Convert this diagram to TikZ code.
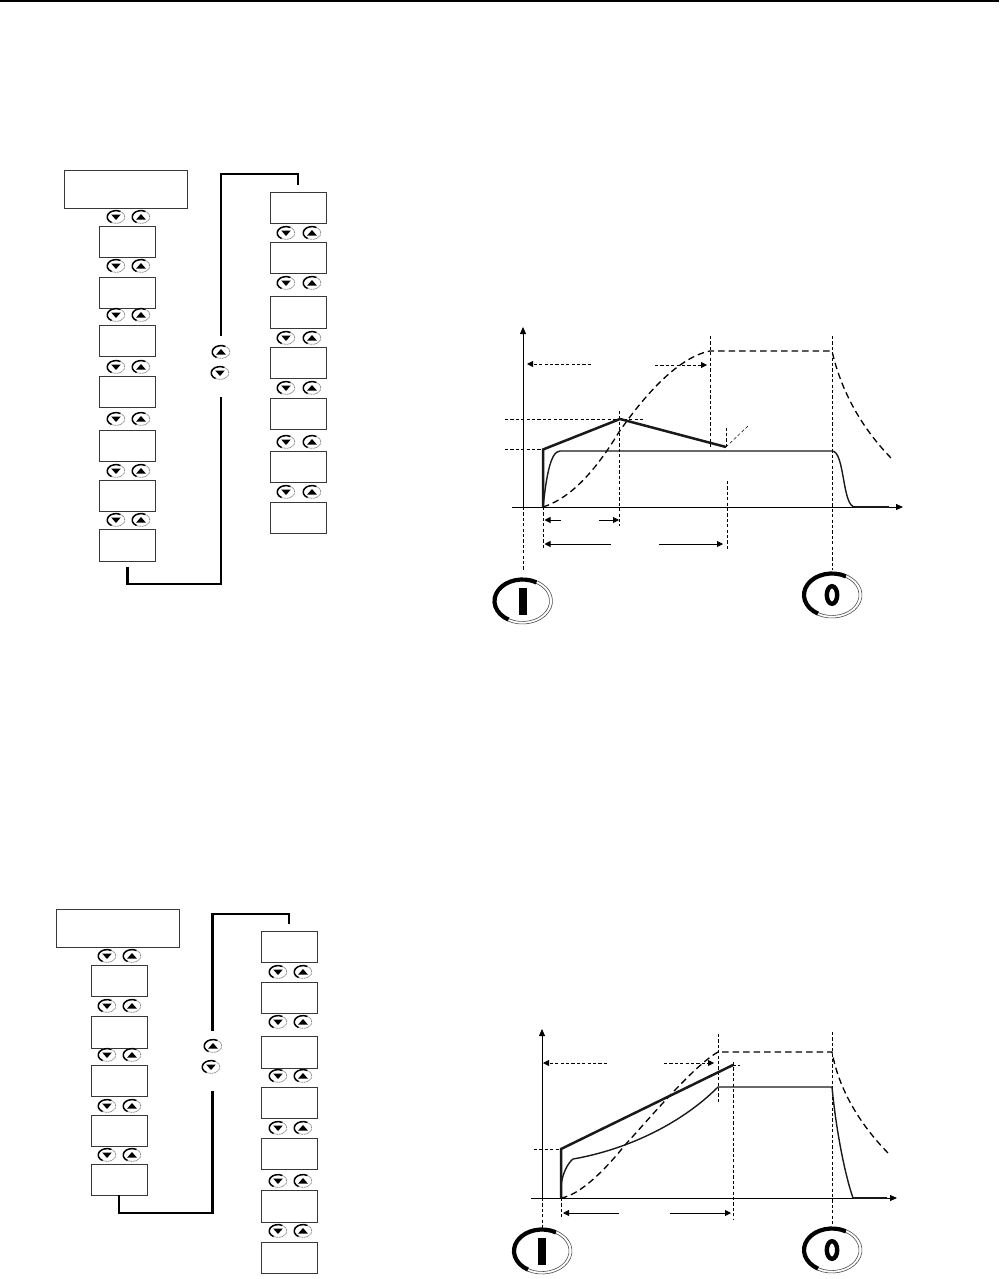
\documentclass[tikz,border=0pt]{standalone}
\usetikzlibrary{arrows.meta,calc}
\tikzset{
  x=1pt,y=-1pt,
  panel/.style={draw=black!78,line width=1pt,fill=white,inner sep=0pt,outer sep=0pt,minimum width=56pt},
  bigpanel/.style={panel,minimum width=123pt},
  link/.style={line width=2.4pt,black,line cap=butt,line join=miter},
  axis/.style={line width=.8pt,black,-{Triangle[length=7pt,width=6pt]}},
  guide/.style={line width=.8pt,black,dash pattern=on 3.2pt off 2.2pt},
  guidearrow/.style={guide,-{Triangle[length=6pt,width=6pt]}},
  span/.style={line width=.9pt,black,-{Triangle[length=6pt,width=6pt]}},
  load/.style={line width=2.5pt,black!90,line join=miter},
  current/.style={line width=1.4pt,black!90},
  speed/.style={line width=1.3pt,black,dash pattern=on 6.5pt off 4pt},
  pics/btnring/.style={code={
    \begin{scope}[y=1pt]
      \fill[white] (0,0) ellipse [x radius=9.5pt,y radius=7pt];
      \draw[black!45,line width=.8pt,dash pattern=on 1pt off .6pt] (60:8.8pt and 6.4pt) arc[start angle=60,end angle=-120,x radius=8.8pt,y radius=6.4pt];
      \draw[black,line width=1.5pt] (60:8.8pt and 6.4pt) arc[start angle=60,end angle=240,x radius=8.8pt,y radius=6.4pt];
    \end{scope}
  }},
  pics/btnup/.style={code={
    \pic {btnring};
    \begin{scope}[y=1pt]\fill[black] (-4.8pt,-2.5pt) -- (4.8pt,-2.5pt) -- (0pt,3pt) -- cycle;\end{scope}
  }},
  pics/btndown/.style={code={
    \pic {btnring};
    \begin{scope}[y=1pt]\fill[black] (-4.8pt,2.5pt) -- (4.8pt,2.5pt) -- (0pt,-3pt) -- cycle;\end{scope}
  }},
  pics/powerring/.style={code={
    \begin{scope}[y=1pt]
      \draw[black!70,line width=.6pt] (60:30pt and 23pt) arc[start angle=60,end angle=-120,x radius=30pt,y radius=23pt];
      \draw[black!70,line width=.6pt] (60:27pt and 20.5pt) arc[start angle=60,end angle=-120,x radius=27pt,y radius=20.5pt];
      \draw[black,line width=4.2pt] (60:28pt and 21.5pt) arc[start angle=60,end angle=240,x radius=28pt,y radius=21.5pt];
    \end{scope}
  }},
  pics/poweron/.style={code={
    \pic {powerring};
    \fill[black] (-4pt,-14pt) rectangle (4pt,13pt);
  }},
  pics/poweroff/.style={code={
    \pic {powerring};
    \begin{scope}[y=1pt]\draw[black,line width=4.4pt] (0,0) ellipse [x radius=5.2pt,y radius=8.8pt];\end{scope}
  }},
}
\newcommand{\panelbox}[5][panel]{\node[#1,minimum height={(#5-#4)*1pt}] (#2) at (#3,{(#4+#5)/2}) {};}
\begin{document}
\begin{tikzpicture}
\useasboundingbox (0,0) rectangle (999,1279);
\fill[white] (0,0) rectangle (999,1279);
\fill[black] (0,0) rectangle (999,1.6);

% ---- upper menu
\panelbox[bigpanel]{tb}{126}{170}{208}
\panelbox{ta}{127}{226}{257}
\panelbox{tc}{127}{277}{308}
\panelbox{td}{127}{325}{356}
\panelbox{te}{127}{376}{407}
\panelbox{tf}{127}{430}{461}
\panelbox{tg}{127}{480}{511}
\panelbox{th}{127}{529}{561}
\panelbox{ra}{298}{192}{223}
\panelbox{rb}{298}{242}{273}
\panelbox{rc}{298}{296}{328}
\panelbox{rd}{298}{347}{378}
\panelbox{re}{298}{398}{429}
\panelbox{rf}{298}{451}{482}
\panelbox{rg}{298}{502}{533}
\foreach \y in {217,266,315,367,419,471,520}{
  \pic at (116,\y) {btndown}; \pic at (141,\y) {btnup};}
\foreach \y in {233,283,338,388,442,492}{
  \pic at (286,\y) {btndown}; \pic at (312,\y) {btnup};}
\pic at (221,352) {btnup};
\pic at (220,373) {btndown};
\coordinate (tl1) at (127.5,567);
\coordinate (tl2) at (221,397);
\coordinate (tl3) at (221,336);
\coordinate (tl4) at (298,185);
\draw[link] (tl1) |- (tl2 |- 0,584) -- (tl2);
\draw[link] (tl3) |- (tl4 |- 0,174) -- (tl4);

% ---- lower menu
\panelbox[bigpanel]{ub}{117.5}{909}{947}
\panelbox{ua}{119}{965}{996}
\panelbox{uc}{119}{1016}{1048}
\panelbox{ud}{119}{1065}{1096}
\panelbox{ue}{119}{1115}{1146}
\panelbox{uf}{119}{1164}{1195}
\panelbox{sa}{289}{931}{962}
\panelbox{sb}{289}{982}{1013}
\panelbox{sc}{289}{1036}{1068}
\panelbox{sd}{289}{1087}{1118}
\panelbox{se}{289}{1138}{1169}
\panelbox{sf}{289}{1190}{1222}
\panelbox{sg}{289}{1242}{1273}
\foreach \y in {956,1006,1055,1106,1155}{
  \pic at (107,\y) {btndown}; \pic at (132,\y) {btnup};}
\foreach \y in {972,1022,1076,1128,1181,1231}{
  \pic at (278,\y) {btndown}; \pic at (303,\y) {btnup};}
\pic at (213,1046) {btnup};
\pic at (211,1067) {btndown};
\coordinate (ul2) at (212.5,1091);
\coordinate (ul3) at (212.5,1031);
\coordinate (ul4) at (289,924);
\draw[link] (uf.south) |- (ul2 |- 0,1213) -- (ul2);
\draw[link] (ul3) |- (ul4 |- 0,914) -- (ul4);

% ---- upper chart
\draw[guide] (523,507) -- (523,570);
\draw[guide] (832,336) -- (832,570);
\draw[guide] (710,336) -- (710,449);
\draw[guide] (619.5,411) -- (619.5,526);
\draw[guide] (543,507) -- (543,550);
\draw[guide] (727,481) -- (727,550);
\draw[guide] (726,447) -- (726,428);
\draw[guide] (505,419) -- (643,419);
\draw[guide] (505,449.5) -- (543,449.5);
\draw[guide,line width=.5pt] (726,447) -- (748,426);
\draw[guidearrow] (591,364) -- (527,364);
\draw[guidearrow] (655,365) -- (707,365);
\draw[axis] (523,507) -- (523,327);
\draw[axis] (512,507) -- (903,507);
\draw[span] (561,520) -- (544.5,520);
\draw[span] (599,520) -- (619,520);
\draw[span] (611,544) -- (544.5,544);
\draw[span] (659,544) -- (723,544);
\draw[speed] (543,507) .. controls (565,500) and (590,480) .. (619,432) .. controls (640,402) and (675,358) .. (710,351) -- (832,351) .. controls (842,395) and (865,432) .. (893,460);
\draw[current] (543,507) .. controls (546,480) and (550,451) .. (560,451) -- (832,451) .. controls (845,451) and (842,507) .. (855,507) -- (889,507);
\draw[load] (543,507) -- (543,449.5) -- (620,419) -- (726,447);
\pic at (522.5,601) {poweron};
\pic at (832,595) {poweroff};

% ---- lower chart
\draw[guide] (542,1198) -- (542,1228);
\draw[guide] (832,1032) -- (832,1226);
\draw[guide] (718,1034) -- (718,1103);
\draw[guide] (733,1062) -- (733,1219);
\draw[guide] (561,1198) -- (561,1219);
\draw[guide] (534,1149) -- (561,1149);
\draw[guide] (733,1065) -- (740,1065);
\draw[guidearrow] (607,1063) -- (543,1063);
\draw[guidearrow] (664,1063) -- (714,1063);
\draw[axis] (542,1198) -- (542,1029);
\draw[axis] (531,1198) -- (897,1198);
\draw[span] (619,1213) -- (563,1213);
\draw[span] (670,1213) -- (731,1213);
\draw[speed] (561,1198) .. controls (580,1195) and (605,1170) .. (625,1145) .. controls (655,1112) and (695,1065) .. (718,1052) -- (832,1052) .. controls (840,1095) and (865,1130) .. (890,1155);
\draw[current] (561,1185) .. controls (563,1172) and (568,1163) .. (573,1159) .. controls (625,1150) and (680,1125) .. (718,1087) -- (832,1087) .. controls (836,1130) and (845,1175) .. (853,1198) -- (887,1198);
\draw[load] (561,1198) -- (561,1149) -- (733,1065);
\draw[load] (853,1198) -- (887,1198);
\draw[load] (855,507) -- (889,507);
\pic at (542,1251) {poweron};
\pic at (832,1250) {poweroff};
\end{tikzpicture}
\end{document}
